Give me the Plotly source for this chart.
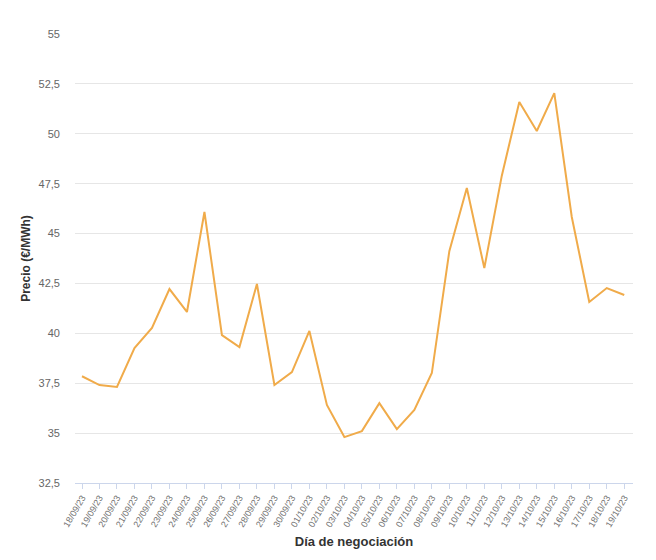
import plotly.graph_objects as go

fechas = ["18/09/23", "19/09/23", "20/09/23", "21/09/23", "22/09/23", "23/09/23", "24/09/23", "25/09/23",
          "26/09/23", "27/09/23", "28/09/23", "29/09/23", "30/09/23", "01/10/23", "02/10/23", "03/10/23",
          "04/10/23", "05/10/23", "06/10/23", "07/10/23", "08/10/23", "09/10/23", "10/10/23", "11/10/23",
          "12/10/23", "13/10/23", "14/10/23", "15/10/23", "16/10/23", "17/10/23", "18/10/23", "19/10/23"]
precios = [37.85, 37.41, 37.31, 39.26, 40.27, 42.22, 41.07, 46.08,
           39.91, 39.31, 42.47, 37.41, 38.06, 40.12, 36.41, 34.80,
           35.10, 36.50, 35.20, 36.16, 38.01, 44.12, 47.28, 43.27,
           47.90, 51.59, 50.14, 52.04, 45.83, 41.57, 42.27, 41.92]
y_ticks = [32.5, 35, 37.5, 40, 42.5, 45, 47.5, 50, 52.5, 55]
y_ticktext = ["32,5", "35", "37,5", "40", "42,5", "45", "47,5", "50", "52,5", "55"]

fig = go.Figure()
fig.add_trace(go.Scatter(
    x=list(range(len(fechas))), y=precios, mode="lines",
    line=dict(color="#f0ab4a", width=2),
    hoverinfo="skip", showlegend=False,
))

fig.update_layout(
    width=656, height=560,
    margin=dict(l=67, r=31, t=26, b=85),
    paper_bgcolor="white", plot_bgcolor="white",
    font=dict(family="Liberation Sans, Arial, sans-serif", color="#666666"),
    separators=",.",
    xaxis=dict(
        tickmode="array", tickvals=list(range(len(fechas))), ticktext=fechas,
        tickangle=-60, tickfont=dict(size=9, color="#707070"),
        range=[-0.4, 31.5], automargin=False,
        showgrid=False, zeroline=False,
        showline=True, linecolor="#ccd6eb", linewidth=1,
        ticks="outside", ticklen=5, tickcolor="#ccd6eb",
        title=dict(text="<b>Día de negociación</b>", font=dict(size=13, color="#333333"), standoff=8),
    ),
    yaxis=dict(
        tickmode="array", tickvals=y_ticks, ticktext=y_ticktext,
        range=[32.5, 55], automargin=False, tickfont=dict(size=11, color="#666666"),
        showgrid=True, gridcolor="#e6e6e6", gridwidth=1,
        zeroline=False, showline=False, ticks="", ticklabelstandoff=14,
        title=dict(text="<b>Precio (€/MWh)</b>", font=dict(size=12, color="#333333"), standoff=5),
    ),
)

fig.write_html("out.html")
